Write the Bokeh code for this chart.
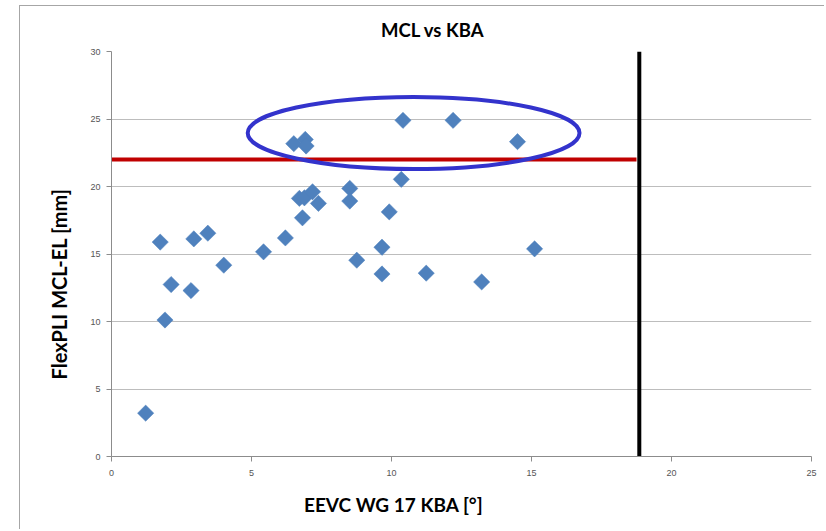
from bokeh.plotting import figure
from bokeh.models import Range1d, FixedTicker, Title
from bokeh.embed import file_html
from bokeh.resources import INLINE
import numpy as np

# KBA (x) and MCL elongation (y) measurements
kba = [1.22, 1.74, 2.13, 1.91, 2.94, 2.84, 3.44, 4.01, 5.43, 6.21,
       6.51, 6.92, 6.95, 6.71, 6.89, 7.18, 7.39, 6.82, 8.51, 8.51,
       8.76, 9.66, 9.66, 9.92, 10.41, 12.2, 14.5, 10.35, 11.24, 13.22, 15.11]
mcl = [3.21, 15.88, 12.74, 10.11, 16.12, 12.29, 16.54, 14.17, 15.16, 16.19,
       23.17, 23.49, 23.0, 19.12, 19.16, 19.61, 18.75, 17.68, 19.86, 18.92,
       14.54, 15.50, 13.52, 18.12, 24.90, 24.90, 23.32, 20.53, 13.58, 12.93, 15.38]

mcl_threshold = 22.0
mcl_threshold_x = [0.0, 18.75]
kba_limit = 18.85
kba_limit_y = [0.0, 30.0]

x_ticks = [0, 5, 10, 15, 20, 25]
y_ticks = [0, 5, 10, 15, 20, 25, 30]

title_text = "MCL vs KBA"
x_label_text = "EEVC WG 17 KBA [°]"
y_label_text = "FlexPLI MCL-EL [mm]"

# highlighted group (ellipse)
hl_x, hl_y, hl_w, hl_h = 10.79, 23.96, 11.85, 5.34

p = figure(width=805, height=524, output_backend="svg", toolbar_location=None,
           x_range=Range1d(0, 25), y_range=Range1d(0, 30),
           min_border_left=91, min_border_right=14, min_border_top=45, min_border_bottom=74)
p.margin = (5, 0, 0, 19)
p.styles = {"border-left": "1px solid #A6A6A6", "border-top": "1px solid #A6A6A6"}

p.outline_line_color = None
p.xgrid.grid_line_color = None
p.ygrid.grid_line_color = "#BDBDBD"
p.ygrid.grid_line_width = 1

for ax in (p.xaxis[0], p.yaxis[0]):
    ax.axis_line_color = "#8C8C8C"
    ax.major_tick_line_color = "#8C8C8C"
    ax.major_tick_out = 5
    ax.major_tick_in = 0
    ax.minor_tick_line_color = None
    ax.major_label_text_font = "Liberation Sans"
    ax.major_label_text_font_size = "9px"
    ax.major_label_text_color = "#555555"

p.xaxis[0].ticker = FixedTicker(ticks=x_ticks)
p.yaxis[0].ticker = FixedTicker(ticks=y_ticks)
p.xaxis[0].major_label_standoff = 8
p.yaxis[0].major_label_standoff = 6

p.line(mcl_threshold_x, [mcl_threshold, mcl_threshold], line_color="#C00000", line_width=4)
p.line([kba_limit, kba_limit], kba_limit_y, line_color="#000000", line_width=4)

p.scatter(kba, mcl, marker="square", angle=np.pi / 4, size=11.5,
          fill_color="#4F81BD", line_color="#4F81BD", line_width=0.5)

p.ellipse(x=[hl_x], y=[hl_y], width=[hl_w], height=[hl_h],
          fill_color=None, line_color="#3333CC", line_width=4)

p.add_layout(Title(text=title_text, align="left", offset=269.5, standoff=21,
                   text_font="Lato", text_font_size="18.5px", text_font_style="bold",
                   text_color="#000000"), "above")
p.add_layout(Title(text=x_label_text, align="left", offset=192.5, standoff=25,
                   text_font="Lato", text_font_size="19px", text_font_style="bold",
                   text_color="#000000"), "below")
p.add_layout(Title(text=y_label_text, align="left", offset=77, standoff=33,
                   text_font="Lato", text_font_size="20px", text_font_style="bold",
                   text_color="#000000"), "left")

open("out.html", "w").write(file_html(p, INLINE))
